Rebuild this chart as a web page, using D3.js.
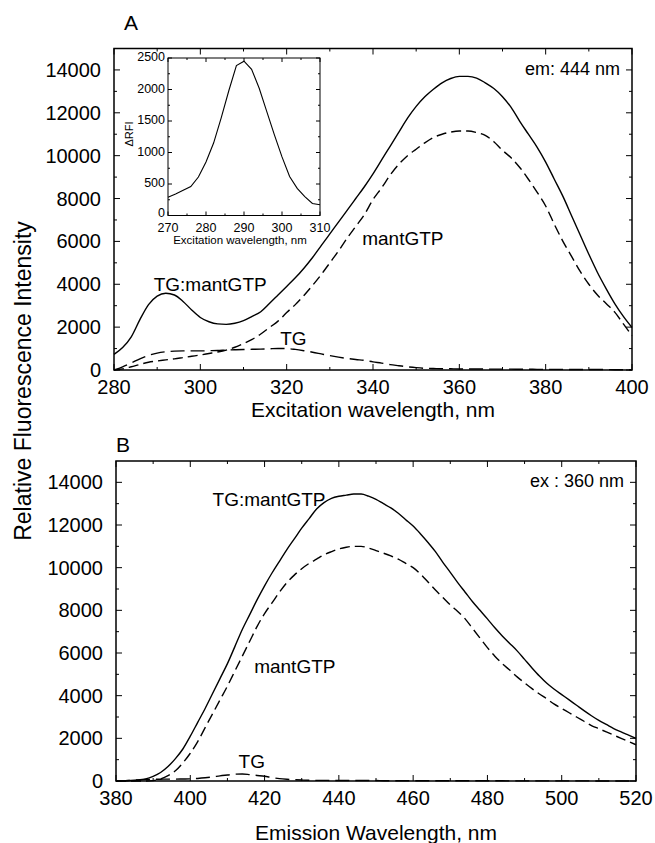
<!DOCTYPE html>
<html>
<head>
<meta charset="utf-8">
<script src="https://cdn.jsdelivr.net/npm/d3@7"></script>
<style>
  body { margin: 0; background: #fff; }
  svg { font-family: "Liberation Sans", Arial, sans-serif; }
</style>
</head>
<body>
<div id="chart"></div>
<script>
// panel A : excitation spectra (em 444 nm)
var exWl = [280,282,284,286,288,290,292,294,296,298,300,302,304,306,308,310,312,314,316,318,320,
  322,324,326,328,330,332,334,336,338,340,342,344,346,348,350,352,354,356,358,360,
  362,364,366,368,370,372,374,376,378,380,382,384,386,388,390,392,394,396,398,400]
var exComplex = [730,1050,1550,2350,3050,3450,3580,3500,3200,2800,2450,2250,2150,2130,2180,2300,2500,2720,3100,3500,3900,
  4300,4750,5250,5800,6350,6900,7450,8000,8550,9150,9800,10450,11100,11750,12300,12750,13100,13400,13600,13700,
  13700,13620,13400,13130,12750,12250,11600,11000,10400,9700,8900,8100,7200,6300,5400,4550,3800,3100,2500,1980]
var exMant = [0,50,150,260,360,420,470,520,580,640,700,770,840,930,1060,1230,1430,1680,1980,2280,2680,
  3050,3480,3950,4450,5000,5550,6150,6700,7250,7950,8500,9100,9600,10000,10300,10600,10850,11000,11100,11150,
  11150,11080,10950,10650,10250,9900,9450,8900,8300,7650,6800,6000,5300,4600,4000,3500,3100,2700,2150,1600]
var exTG = [0,150,330,520,680,790,850,880,890,890,890,900,910,930,945,955,965,975,990,1005,1000,
  960,900,830,750,670,600,540,490,450,380,320,250,200,150,110,80,70,60,55,50,
  50,45,45,40,40,40,35,35,30,30,30,30,25,25,20,20,20,15,15,10]

// inset : difference spectrum
var insetWl = [270,272,274,276,278,280,282,284,286,288,290,292,294,296,298,300,302,304,306,308,310]
var insetDRFI = [290,340,400,460,610,850,1150,1550,1980,2380,2450,2320,2020,1650,1280,930,620,430,300,190,170]

// panel B : emission spectra (ex 360 nm)
var emWl = [380,382,384,386,388,390,392,394,396,398,400,402,404,406,408,410,412,414,416,418,420,
  422,424,426,428,430,432,434,436,438,440,442,444,446,448,450,452,454,456,458,460,
  462,464,466,468,470,472,474,476,478,480,482,484,486,488,490,492,494,496,498,500,
  502,504,506,508,510,512,514,516,518,520]
var emComplex = [0,10,20,50,100,220,400,680,1050,1500,2100,2750,3400,4100,4800,5500,6300,7100,7800,8500,9150,
  9750,10300,10850,11350,11850,12300,12750,13050,13250,13350,13400,13450,13450,13350,13200,13000,12800,12550,12250,11950,
  11580,11180,10750,10250,9780,9300,8850,8400,8000,7600,7180,6800,6450,6100,5700,5300,4920,4580,4300,4050,
  3800,3550,3300,3060,2840,2650,2460,2300,2150,2000]
var emMant = [0,0,0,0,0,20,100,250,480,850,1300,1850,2500,3150,3800,4450,5150,5850,6550,7250,7850,
  8350,8850,9300,9650,9950,10200,10400,10600,10750,10880,10960,11000,11000,10920,10800,10680,10550,10400,10200,10000,
  9700,9330,8950,8600,8250,7950,7600,7150,6700,6250,5850,5500,5200,4880,4600,4330,4080,3850,3600,3400,
  3200,3000,2800,2600,2450,2300,2150,2000,1850,1700]
var emTG = [0,10,30,50,70,80,85,90,90,95,100,120,150,190,240,280,320,330,300,260,220,
  160,110,80,60,45,35,30,30,25,25,20,20,20,20,20,15,15,15,15,15,
  15,15,10,10,10,10,10,10,10,10,10,10,5,5,5,5,5,5,5,5,
  5,5,5,5,0,0,0,0,0,0]

var yTicks = [0,2000,4000,6000,8000,10000,12000,14000]
var exTicks = [280,300,320,340,360,380,400]
var emTicks = [380,400,420,440,460,480,500,520]
var insetXTicks = [270,280,290,300,310]
var insetYTicks = [0,500,1000,1500,2000,2500]

var W = 655, H = 843

var svg = d3.select('#chart').append('svg')
  .attr('width', W)
  .attr('height', H)

function innerTicks(g, x, y, xMajor, xMinor, yMajor, yMinor, len, minLen) {
  var x0 = x.range()[0], x1 = x.range()[1]
  var y0 = y.range()[0], y1 = y.range()[1]
  var t = g.append('g').attr('stroke', '#000').attr('stroke-width', 1)
  function xt(vals, l) {
    vals.forEach(function(v) {
      t.append('line').attr('x1', x(v)).attr('x2', x(v)).attr('y1', y0).attr('y2', y0 - l)
      t.append('line').attr('x1', x(v)).attr('x2', x(v)).attr('y1', y1).attr('y2', y1 + l)
    })
  }
  function yt(vals, l) {
    vals.forEach(function(v) {
      t.append('line').attr('y1', y(v)).attr('y2', y(v)).attr('x1', x0).attr('x2', x0 + l)
      t.append('line').attr('y1', y(v)).attr('y2', y(v)).attr('x1', x1).attr('x2', x1 - l)
    })
  }
  xt(xMajor, len); xt(xMinor, minLen)
  yt(yMajor, len); yt(yMinor, minLen)
}

function panel(opt) {
  var x = d3.scaleLinear().domain(opt.xDomain).range(opt.xRange)
  var y = d3.scaleLinear().domain([0, 15000]).range(opt.yRange)
  var g = svg.append('g')

  var line = d3.line()
    .x(function(d) { return x(d[0]) })
    .y(function(d) { return y(d[1]) })
    .curve(d3.curveMonotoneX)

  opt.series.forEach(function(s) {
    g.append('path')
      .datum(opt.wl.map(function(w, i) { return [w, s.values[i]] }))
      .attr('d', line)
      .attr('fill', 'none')
      .attr('stroke', '#000')
      .attr('stroke-width', 1.4)
      .attr('stroke-dasharray', s.dash)
  })

  g.append('rect')
    .attr('x', x.range()[0]).attr('y', y.range()[1])
    .attr('width', x.range()[1] - x.range()[0])
    .attr('height', y.range()[0] - y.range()[1])
    .attr('fill', 'none').attr('stroke', '#000').attr('stroke-width', 1.5)

  var xMinor = d3.range(opt.xDomain[0] + 10, opt.xDomain[1], 20)
  var yMinor = [1000,3000,5000,7000,9000,11000,13000]
  innerTicks(g, x, y, opt.xTicks, xMinor, yTicks, yMinor, 6, 3)

  g.selectAll('.ylab').data(yTicks).enter().append('text')
    .attr('x', x.range()[0] - 13)
    .attr('y', function(d) { return y(d) + 7 })
    .attr('text-anchor', 'end')
    .style('font-size', '20px')
    .text(function(d) { return d })

  g.selectAll('.xlab').data(opt.xTicks).enter().append('text')
    .attr('x', function(d) { return x(d) })
    .attr('y', y.range()[0] + 24)
    .attr('text-anchor', 'middle')
    .style('font-size', '20px')
    .text(function(d) { return d })

  g.append('text')
    .attr('x', (x.range()[0] + x.range()[1]) / 2)
    .attr('y', opt.titleY)
    .attr('text-anchor', 'middle')
    .style('font-size', '21px')
    .text(opt.title)

  g.append('text')
    .attr('x', opt.letterX).attr('y', opt.letterY)
    .attr('text-anchor', 'middle')
    .style('font-size', '21px')
    .text(opt.letter)

  g.append('text')
    .attr('x', x.range()[1] - 12).attr('y', opt.noteY)
    .attr('text-anchor', 'end')
    .style('font-size', '18px')
    .text(opt.note)

  opt.labels.forEach(function(l) {
    g.append('text')
      .attr('x', x(l.at[0])).attr('y', y(l.at[1]))
      .style('font-size', '19px')
      .text(l.text)
  })

  return {x: x, y: y}
}

var A = panel({
  xDomain: [280, 400], xRange: [114, 632], yRange: [370, 48.5],
  wl: exWl, xTicks: exTicks,
  series: [
    {values: exComplex, dash: null},
    {values: exMant, dash: '10,5'},
    {values: exTG, dash: '14,6'}
  ],
  title: 'Excitation wavelength, nm', titleY: 417,
  letter: 'A', letterX: 131, letterY: 30,
  note: 'em: 444 nm', noteY: 75,
  labels: [
    {text: 'TG:mantGTP', at: [289.2, 3680]},
    {text: 'mantGTP', at: [337.5, 5820]},
    {text: 'TG', at: [318.5, 1170]}
  ]
})

var B = panel({
  xDomain: [380, 520], xRange: [116, 636], yRange: [781, 461],
  wl: emWl, xTicks: emTicks,
  series: [
    {values: emComplex, dash: null},
    {values: emMant, dash: '10,5'},
    {values: emTG, dash: '14,6'}
  ],
  title: 'Emission Wavelength, nm', titleY: 840,
  letter: 'B', letterX: 123, letterY: 452,
  note: 'ex : 360 nm', noteY: 487,
  labels: [
    {text: 'TG:mantGTP', at: [406, 12900]},
    {text: 'mantGTP', at: [417.2, 5060]},
    {text: 'TG', at: [413, 610]}
  ]
})

// inset in panel A
var ix = d3.scaleLinear().domain([270, 310]).range([168, 320])
var iy = d3.scaleLinear().domain([0, 2500]).range([215.5, 58])
var ins = svg.append('g')

ins.append('rect')
  .attr('x', 168).attr('y', 58)
  .attr('width', ix.range()[1] - ix.range()[0])
  .attr('height', iy.range()[0] - iy.range()[1])
  .attr('fill', '#fff').attr('stroke', '#000').attr('stroke-width', 1)

ins.append('path')
  .datum(insetWl.map(function(w, i) { return [w, insetDRFI[i]] }))
  .attr('d', d3.line().x(function(d) { return ix(d[0]) }).y(function(d) { return iy(d[1]) }))
  .attr('fill', 'none').attr('stroke', '#000').attr('stroke-width', 1.1)

innerTicks(ins, ix, iy, insetXTicks, [275,285,295,305], insetYTicks, [250,750,1250,1750,2250], 4, 2)

ins.selectAll('.iy').data(insetYTicks).enter().append('text')
  .attr('x', 165).attr('y', function(d) { return d == 0 ? iy(d) + 1 : iy(d) + 3 })
  .attr('text-anchor', 'end')
  .style('font-size', '12.5px')
  .text(function(d) { return d })

ins.selectAll('.ix').data(insetXTicks).enter().append('text')
  .attr('x', function(d) { return ix(d) }).attr('y', 232)
  .attr('text-anchor', 'middle')
  .style('font-size', '12.5px')
  .text(function(d) { return d })

ins.append('text')
  .attr('x', 240).attr('y', 244)
  .attr('text-anchor', 'middle')
  .style('font-size', '11.5px')
  .text('Excitation wavelength, nm')

ins.append('text')
  .attr('transform', 'translate(133,134) rotate(-90)')
  .attr('text-anchor', 'middle')
  .style('font-size', '11px')
  .text('ΔRFI')

svg.append('text')
  .attr('transform', 'translate(31,381) rotate(-90)')
  .attr('text-anchor', 'middle')
  .style('font-size', '23px')
  .text('Relative Fluorescence Intensity')
</script>
</body>
</html>
